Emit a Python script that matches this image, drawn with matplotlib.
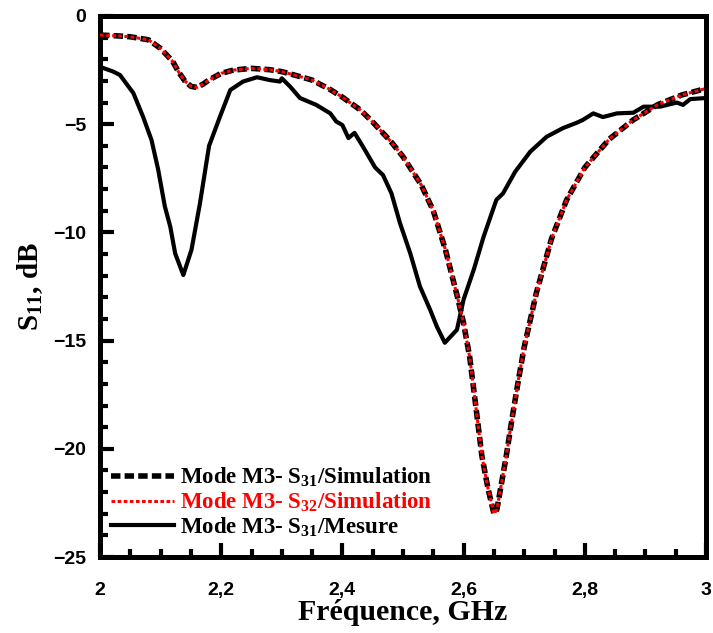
import matplotlib
matplotlib.use("Agg")
import matplotlib.pyplot as plt
from matplotlib.ticker import MultipleLocator, FuncFormatter
from matplotlib.lines import Line2D

plt.rcParams['mathtext.fontset'] = 'custom'
plt.rcParams['mathtext.rm'] = 'Liberation Serif:bold'
plt.rcParams['mathtext.bf'] = 'Liberation Serif:bold'
plt.rcParams['mathtext.it'] = 'Liberation Serif:italic:bold'

# Simulation S31 / S32 (GHz, dB)
f_sim = [2.00, 2.03, 2.05, 2.08, 2.10, 2.12, 2.13, 2.14, 2.15, 2.16, 2.17, 2.18,
         2.20, 2.22, 2.25, 2.28, 2.30, 2.33, 2.35, 2.38, 2.40, 2.43, 2.45, 2.48,
         2.50, 2.53, 2.55, 2.57, 2.58, 2.59, 2.60, 2.61, 2.62, 2.63, 2.64, 2.65,
         2.655, 2.66, 2.67, 2.68, 2.69, 2.70, 2.72, 2.745, 2.77, 2.80, 2.84, 2.88,
         2.92, 2.96, 3.00]
s31_sim = [-0.88, -0.92, -0.96, -1.1, -1.5, -2.1, -2.6, -3.0, -3.25, -3.3, -3.15, -2.95,
           -2.65, -2.5, -2.42, -2.48, -2.57, -2.8, -2.96, -3.4, -3.75, -4.35, -4.9, -5.8,
           -6.5, -7.8, -9.0, -10.8, -11.9, -13.0, -14.2, -15.75, -18.0, -20.3, -21.8, -23.0,
           -22.8, -22.0, -20.4, -18.6, -16.9, -15.3, -12.8, -10.3, -8.5, -7.0, -5.7, -4.8,
           -4.1, -3.65, -3.35]
s32_sim = [-0.88, -0.92, -0.96, -1.1, -1.5, -2.1, -2.6, -3.0, -3.25, -3.3, -3.15, -2.95,
           -2.65, -2.5, -2.42, -2.48, -2.57, -2.8, -2.96, -3.4, -3.75, -4.35, -4.9, -5.8,
           -6.5, -7.8, -9.0, -10.8, -11.9, -13.0, -14.2, -15.75, -18.0, -20.3, -21.8, -23.0,
           -22.8, -22.0, -20.4, -18.6, -16.9, -15.3, -12.8, -10.3, -8.5, -7.0, -5.7, -4.8,
           -4.1, -3.65, -3.35]

# Measurement S31
f_mes = [2.000, 2.005, 2.022, 2.033, 2.055, 2.071, 2.085, 2.096, 2.107, 2.116, 2.124,
         2.1375, 2.151, 2.165, 2.18, 2.198, 2.215, 2.236, 2.259, 2.28, 2.297, 2.30,
         2.314, 2.33, 2.357, 2.38, 2.39, 2.40, 2.41, 2.42, 2.434, 2.454, 2.467, 2.481,
         2.495, 2.512, 2.528, 2.545, 2.556, 2.569, 2.589, 2.60, 2.617, 2.633, 2.654,
         2.665, 2.685, 2.71, 2.737, 2.764, 2.787, 2.797, 2.814, 2.83, 2.853, 2.88,
         2.897, 2.924, 2.952, 2.962, 2.974, 3.000]
s31_mes = [-2.35, -2.4, -2.57, -2.73, -3.56, -4.65, -5.73, -7.1, -8.8, -9.74, -10.97,
           -11.97, -10.8, -8.65, -6.0, -4.65, -3.42, -3.03, -2.83, -2.96, -3.03, -2.88,
           -3.27, -3.79, -4.11, -4.5, -4.88, -5.04, -5.64, -5.4, -6.04, -7.0, -7.35, -8.2,
           -9.57, -10.97, -12.5, -13.59, -14.36, -15.1, -14.5, -13.1, -11.7, -10.2, -8.5,
           -8.2, -7.2, -6.27, -5.58, -5.18, -4.93, -4.8, -4.5, -4.67, -4.5, -4.47,
           -4.19, -4.19, -4.0, -4.11, -3.84, -3.79]

x_ticks = [2.0, 2.2, 2.4, 2.6, 2.8, 3.0]
y_ticks = [0, -5, -10, -15, -20, -25]

fig = plt.figure(figsize=(7.13, 6.33), dpi=100)
ax = fig.add_axes([100/713, 1-557/633, 606/713, 541/633])

dash_black = (0, (1.7, 0.75))
dot_red = (0, (1.2, 0.8))

ax.plot(f_sim, s31_sim, color='black', lw=4.0, linestyle=dash_black,
        dash_capstyle='butt', zorder=3)
ax.plot(f_sim, s32_sim, color='red', lw=2.2, linestyle=dot_red,
        dash_capstyle='butt', zorder=4)
ax.plot(f_mes, s31_mes, color='black', lw=3.0, zorder=2)

ax.set_xlim(2, 3)
ax.set_ylim(-25, 0)
ax.set_xticks(x_ticks)
ax.set_yticks(y_ticks)
ax.xaxis.set_minor_locator(MultipleLocator(0.05))
ax.yaxis.set_minor_locator(MultipleLocator(1))
ax.xaxis.set_major_formatter(FuncFormatter(lambda v, p: ('%g' % v).replace('.', ',')))
ax.tick_params(which='major', direction='in', length=10, width=3, labelsize=14)
ax.tick_params(which='minor', direction='in', length=6, width=3)
ax.tick_params(axis='x', which='major', pad=18)
ax.tick_params(axis='y', which='major', pad=10)
for lab in ax.get_xticklabels() + ax.get_yticklabels():
    lab.set_fontweight('bold')
    lab.set_family('Liberation Sans')
for sp in ax.spines.values():
    sp.set_linewidth(3.6)

ax.set_xlabel('Fréquence, GHz', family='Liberation Serif', fontweight='bold', fontsize=21.5, labelpad=0)
ax.set_ylabel(r'S$_{\mathbf{11}}$, dB', family='Liberation Serif', fontweight='bold', fontsize=21, labelpad=6)

handles = [
    Line2D([], [], color='black', lw=4.0, linestyle=dash_black, dash_capstyle='butt'),
    Line2D([], [], color='red', lw=2.2, linestyle=dot_red, dash_capstyle='butt'),
    Line2D([], [], color='black', lw=3.0),
]
labels = [r'Mode M3- S$_{\mathbf{31}}$/Simulation',
          r'Mode M3- S$_{\mathbf{32}}$/Simulation',
          r'Mode M3- S$_{\mathbf{31}}$/Mesure']
leg = ax.legend(handles, labels, loc='lower left', bbox_to_anchor=(0.0, 0.013),
                frameon=False, handlelength=2.75, handletextpad=0.22, labelspacing=0.06,
                borderpad=0.2, borderaxespad=0.3,
                prop={'family': 'Liberation Serif', 'weight': 'bold', 'size': 16.5})
for t, c in zip(leg.get_texts(), ['black', 'red', 'black']):
    t.set_color(c)

fig.savefig('out.png', dpi=100)
